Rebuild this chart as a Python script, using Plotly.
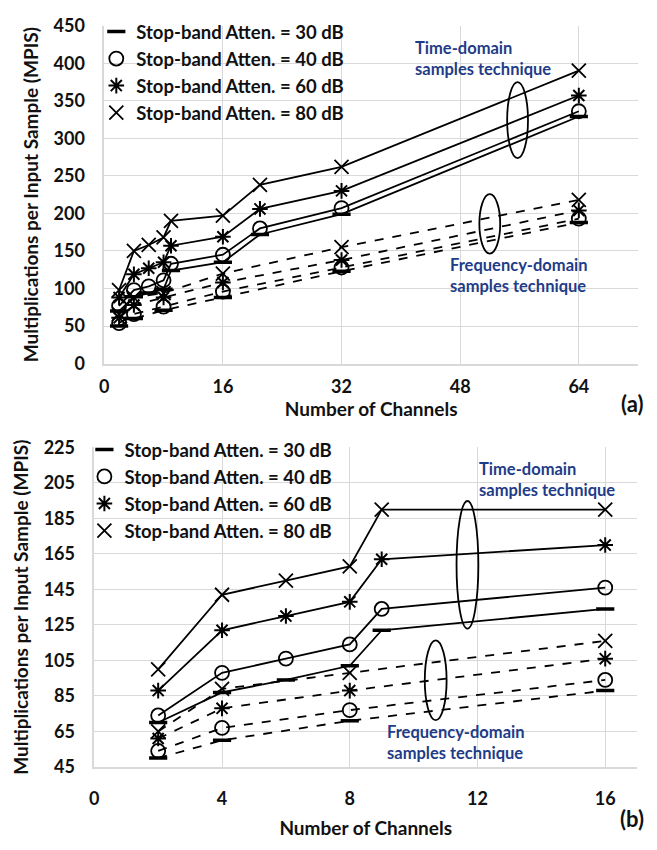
import plotly.graph_objects as go

W, H = 657, 850

# ---------------- data : chart (a) ----------------
a_time_x = [2, 4, 6, 8, 9, 16, 21, 32, 64]
a_time_30 = [70, 89, 94, 99, 124, 135, 172, 199, 329]
a_time_40 = [77, 98, 103, 111, 133, 145, 180, 207, 336]
a_time_60 = [88, 119, 127, 135, 157, 169, 206, 230, 357]
a_time_80 = [98, 150, 158, 168, 190, 197, 238, 262, 390]

a_freq_x = [2, 4, 8, 16, 32, 64]
a_freq_30 = [50, 60, 71, 88, 123, 188]
a_freq_40 = [54, 66, 76, 96, 128, 193]
a_freq_60 = [61, 78, 88, 108, 138, 204]
a_freq_80 = [66, 88, 94, 120, 155, 218]

# ---------------- data : chart (b) ----------------
b_time_x = [2, 4, 6, 8, 9, 16]
b_time_30 = [70, 87, 94, 102, 122, 134]
b_time_40 = [74, 98, 106, 114, 134, 146]
b_time_60 = [88, 122, 130, 138, 162, 170]
b_time_80 = [100, 142, 150, 158, 190, 190]

b_freq_x = [2, 4, 8, 16]
b_freq_30 = [50, 60, 71, 88]
b_freq_40 = [54, 67, 77, 94]
b_freq_60 = [61, 78, 88, 106]
b_freq_80 = [65, 89, 98, 116]

series_names = ["Stop-band Atten. = 30 dB", "Stop-band Atten. = 40 dB",
                "Stop-band Atten. = 60 dB", "Stop-band Atten. = 80 dB"]
a_ticks_x = [0, 16, 32, 48, 64]
b_ticks_x = [0, 4, 8, 12, 16]

symbols = ["line-ew-open", "circle-open", "asterisk-open", "x-thin-open"]
msizes = [13, 14, 13, 14]
mwidths = [3.5, 1.8, 2, 1.8]

FONT = "Lato"
NAVY = "#1F3C88"
GRID = "#d9d9d9"

fig = go.Figure()

def add_group(xs, ys_list, xaxis, yaxis, dash, legend, showlegend):
    for i, ys in enumerate(ys_list):
        # connecting line
        fig.add_trace(go.Scatter(
            x=xs, y=ys, mode="lines", name=series_names[i],
            xaxis=xaxis, yaxis=yaxis, legend=legend, showlegend=False,
            line=dict(color="black", width=1.8, dash=dash), hoverinfo="skip",
        ))
        # markers (legend shows the marker only, like the reference)
        fig.add_trace(go.Scatter(
            x=xs, y=ys, mode="markers", name=series_names[i],
            xaxis=xaxis, yaxis=yaxis, legend=legend, showlegend=showlegend,
            marker=dict(symbol=symbols[i], size=msizes[i],
                        color="black", line=dict(color="black", width=mwidths[i])),
        ))

add_group(a_time_x, [a_time_30, a_time_40, a_time_60, a_time_80], "x", "y", "solid", "legend", True)
add_group(a_freq_x, [a_freq_30, a_freq_40, a_freq_60, a_freq_80], "x", "y", "dash", "legend", False)
add_group(b_time_x, [b_time_30, b_time_40, b_time_60, b_time_80], "x2", "y2", "solid", "legend2", True)
add_group(b_freq_x, [b_freq_30, b_freq_40, b_freq_60, b_freq_80], "x2", "y2", "dash", "legend2", False)

def px(x):
    return x / W

def py(y):
    return 1 - y / H

tickfont = dict(family=FONT, size=18, color="#111", weight="bold")
titlefont = dict(family=FONT, size=19, color="#111", weight="bold")
legfont = dict(family=FONT, size=18.5, color="#111", weight="bold")

axis_common = dict(showgrid=True, gridcolor=GRID, gridwidth=1, zeroline=False,
                   showline=True, linecolor=GRID, linewidth=1.5, ticks="",
                   tickfont=tickfont, mirror=False)

fig.update_layout(
    width=W, height=H,
    margin=dict(l=0, r=0, t=0, b=0),
    paper_bgcolor="white", plot_bgcolor="white",
    xaxis=dict(domain=[px(100), px(638)], range=[0, 72], tickvals=a_ticks_x,
               anchor="y", ticklabelstandoff=6,
               title=dict(text="Number of Channels", font=titlefont, standoff=2),
               **axis_common),
    yaxis=dict(domain=[py(361), py(14)], range=[0, 450], dtick=50, anchor="x",
               ticklabelstandoff=14,
               title=dict(text="Multiplications per Input Sample (MPIS)", font=titlefont, standoff=10),
               **axis_common),
    xaxis2=dict(domain=[px(90), px(637)], range=[0, 17], tickvals=b_ticks_x,
                anchor="y2", ticklabelstandoff=15,
                title=dict(text="Number of Channels", font=titlefont, standoff=13),
                **axis_common),
    yaxis2=dict(domain=[py(775), py(447)], range=[45, 225], tick0=45, dtick=20, anchor="x2",
                ticklabelstandoff=14,
                title=dict(text="Multiplications per Input Sample (MPIS)", font=titlefont, standoff=10),
                **axis_common),
    legend=dict(x=px(92), y=py(1), xanchor="left", yanchor="top",
                bgcolor="rgba(0,0,0,0)", font=legfont,
                itemwidth=30, tracegroupgap=0),
    legend2=dict(x=px(80), y=py(430), xanchor="left", yanchor="top",
                 bgcolor="rgba(0,0,0,0)", font=legfont,
                 itemwidth=30, tracegroupgap=0),
)

ellipses = [
    (506, 72, 527, 150),
    (478, 187, 499, 248),
    (455, 502, 477, 633),
    (423, 645, 445, 727),
]
for x0, y0, x1, y1 in ellipses:
    fig.add_shape(type="circle", xref="paper", yref="paper",
                  x0=px(x0), x1=px(x1), y0=py(y1), y1=py(y0),
                  line=dict(color="black", width=1.8))

notes = [
    (411, 48, "Time-domain<br>samples technique"),
    (446, 270, "Frequency-domain<br>samples technique"),
    (476, 480, "Time-domain<br>samples technique"),
    (383, 750, "Frequency-domain<br>samples technique"),
]
for x, y, t in notes:
    fig.add_annotation(x=px(x), y=py(y), xref="paper", yref="paper",
                       text=t, showarrow=False, xanchor="left", yanchor="middle",
                       align="left", font=dict(family=FONT, size=16.5, color=NAVY, weight="bold"))

for x, y, t in [(632, 402, "(a)"), (632, 828, "(b)")]:
    fig.add_annotation(x=px(x), y=py(y), xref="paper", yref="paper", text=t,
                       showarrow=False, xanchor="center", yanchor="middle",
                       font=dict(family=FONT, size=22, color="#111", weight="bold"))

fig.write_html("out.html")
